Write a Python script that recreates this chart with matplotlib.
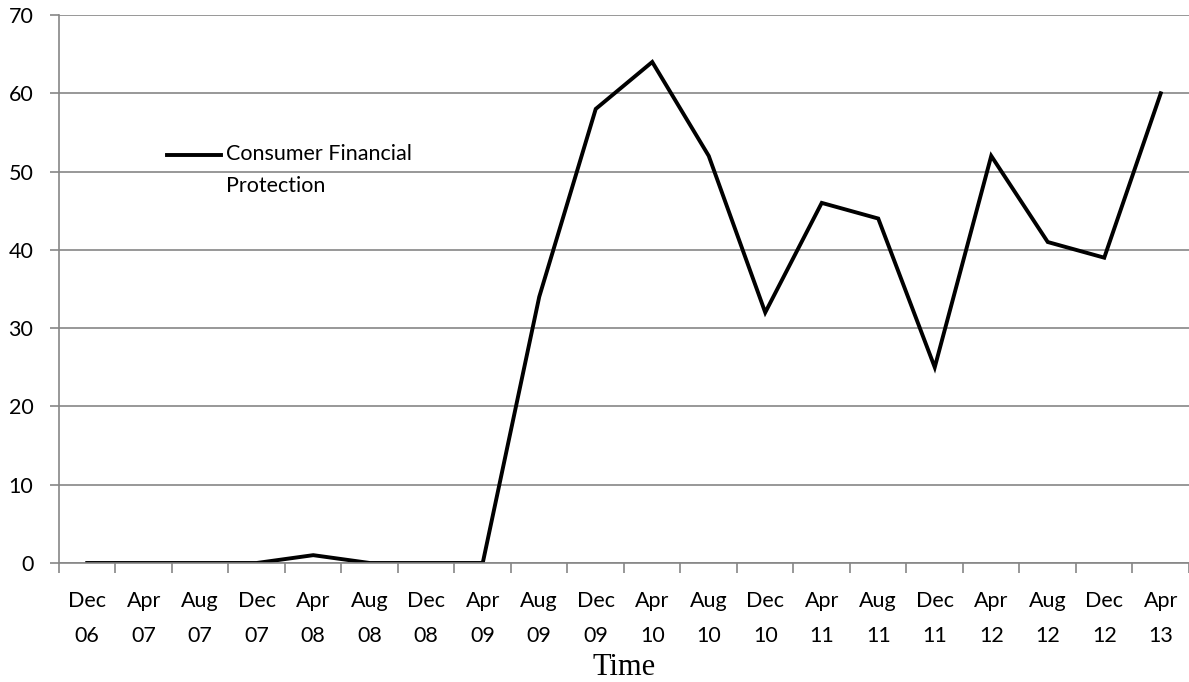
import numpy as np
from matplotlib import pyplot as plt

months = ['Dec', 'Apr', 'Aug'] * 6 + ['Dec', 'Apr']
years = ['06', '07', '07', '07', '08', '08', '08', '09', '09', '09',
         '10', '10', '10', '11', '11', '11', '12', '12', '12', '13']
labels = [m + '\n' + y for m, y in zip(months, years)]
values = [0, 0, 0, 0, 1, 0, 0, 0, 34, 58, 64, 52, 32, 46, 44, 25, 52, 41, 39, 60]
series_name = 'Consumer Financial\nProtection'

grey = '#868686'
plt.rcParams['font.family'] = ['Lato', 'DejaVu Sans']
fs = 15.5

fig = plt.figure(figsize=(11.89, 6.82), dpi=100)
ax = fig.add_axes([0.0496, 0.1745, 0.9504, 0.8035])

x = np.arange(len(values))
ax.plot(x, values, color='black', lw=2.8, solid_joinstyle='miter')

ax.set_xlim(-0.5, len(values) - 0.5)
ax.set_ylim(0, 70)
ax.set_yticks(range(0, 71, 10))
ax.grid(axis='y', color=grey, lw=1.2)
ax.set_axisbelow(True)

ax.set_xticks(x)
ax.set_xticklabels(labels, fontsize=fs, linespacing=1.95)
ax.set_xticks(np.arange(-0.5, len(values), 1), minor=True)
ax.tick_params(axis='x', which='major', length=0, pad=20)
ax.tick_params(axis='x', which='minor', length=7, color=grey, width=1.2)
ax.tick_params(axis='y', length=6.5, color=grey, width=1.2, labelsize=fs, pad=12)

for s in ['top', 'right']:
    ax.spines[s].set_visible(False)
for s in ['left', 'bottom']:
    ax.spines[s].set_color(grey)
    ax.spines[s].set_linewidth(1.2)

# legend drawn by hand so the line sits on the first text line
ax.plot([0.0956, 0.1434], [0.745, 0.745], transform=ax.transAxes,
        color='black', lw=2.8, clip_on=False)
ax.text(0.1478, 0.765, series_name, transform=ax.transAxes, fontsize=fs,
        va='top', ha='left', linespacing=1.75)

fig.text(624 / 1189, 1 - 675 / 682, 'Time', fontsize=22,
         family='Liberation Serif', ha='center', va='baseline')

plt.savefig('out.png', dpi=100)
